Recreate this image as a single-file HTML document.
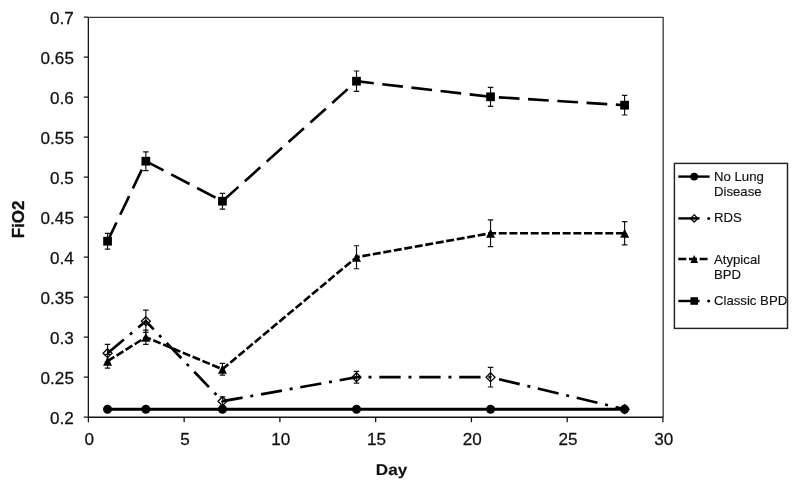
<!DOCTYPE html>
<html><head><meta charset="utf-8"><title>FiO2 by Day</title>
<style>
html,body{margin:0;padding:0;background:#fff;}
body{width:800px;height:491px;overflow:hidden;font-family:"Liberation Sans",Arial,sans-serif;}
svg{display:block;}
text{font-family:"Liberation Sans",Arial,sans-serif;fill:#111;}
.t{font-size:16.3px;stroke:#111;stroke-width:0.25px;}
.b{font-size:16px;font-weight:bold;stroke:#111;stroke-width:0.35px;}
.b2{text-rendering:geometricPrecision;font-size:16px;font-weight:bold;stroke:#111;stroke-width:0.15px;}
.l{font-size:13px;stroke:#111;stroke-width:0.15px;}
</style></head><body>
<svg width="800" height="491" viewBox="0 0 800 491">
<rect width="800" height="491" fill="#fff"/>
<path d="M88.40 17.40H663.20" fill="none" stroke="#3a3a3a" stroke-width="1.15"/>
<path d="M663.20 16.90V417.20" fill="none" stroke="#4a4a4a" stroke-width="1.45"/>
<path d="M88.35 17.40V417.20" fill="none" stroke="#151515" stroke-width="1.3"/>
<path d="M88.35 417.20H663.20" fill="none" stroke="#151515" stroke-width="1.4"/>
<path d="M83.80 417.20H88.40M83.80 377.20H88.40M83.80 337.20H88.40M83.80 297.20H88.40M83.80 257.20H88.40M83.80 217.20H88.40M83.80 177.20H88.40M83.80 137.20H88.40M83.80 97.20H88.40M83.80 57.20H88.40M83.80 17.20H88.40M88.40 417.20V422.20M184.15 417.20V422.20M279.90 417.20V422.20M375.65 417.20V422.20M471.40 417.20V422.20M567.15 417.20V422.20M662.90 417.20V422.20" fill="none" stroke="#151515" stroke-width="1.3"/>
<text class="t" transform="translate(73.90 424.30) scale(1.05 1)" text-anchor="end">0.2</text>
<text class="t" transform="translate(73.90 384.30) scale(1.05 1)" text-anchor="end">0.25</text>
<text class="t" transform="translate(73.90 344.30) scale(1.05 1)" text-anchor="end">0.3</text>
<text class="t" transform="translate(73.90 304.30) scale(1.05 1)" text-anchor="end">0.35</text>
<text class="t" transform="translate(73.90 264.30) scale(1.05 1)" text-anchor="end">0.4</text>
<text class="t" transform="translate(73.90 224.30) scale(1.05 1)" text-anchor="end">0.45</text>
<text class="t" transform="translate(73.90 184.30) scale(1.05 1)" text-anchor="end">0.5</text>
<text class="t" transform="translate(73.90 144.30) scale(1.05 1)" text-anchor="end">0.55</text>
<text class="t" transform="translate(73.90 104.30) scale(1.05 1)" text-anchor="end">0.6</text>
<text class="t" transform="translate(73.90 64.30) scale(1.05 1)" text-anchor="end">0.65</text>
<text class="t" transform="translate(73.90 24.30) scale(1.05 1)" text-anchor="end">0.7</text>
<text class="t" transform="translate(89.20 445.20) scale(1.05 1)" text-anchor="middle">0</text>
<text class="t" transform="translate(184.95 445.20) scale(1.05 1)" text-anchor="middle">5</text>
<text class="t" transform="translate(280.70 445.20) scale(1.05 1)" text-anchor="middle">10</text>
<text class="t" transform="translate(376.45 445.20) scale(1.05 1)" text-anchor="middle">15</text>
<text class="t" transform="translate(472.20 445.20) scale(1.05 1)" text-anchor="middle">20</text>
<text class="t" transform="translate(567.95 445.20) scale(1.05 1)" text-anchor="middle">25</text>
<text class="t" transform="translate(663.70 445.20) scale(1.05 1)" text-anchor="middle">30</text>
<text class="b2" transform="translate(375.8 474.7) scale(1.07 0.97)">Day</text>
<text class="b" transform="translate(24.0 219.4) rotate(-90) scale(1.06 1.06)" text-anchor="middle">FiO2</text>
<polyline points="107.55,409.20 145.85,409.20 222.45,409.20 356.50,409.20 490.55,409.20 624.60,409.20" fill="none" stroke="#000" stroke-width="3.1"/>
<path d="" fill="none" stroke="#111" stroke-width="1.15"/>
<circle cx="107.55" cy="409.20" r="4.50" fill="#000"/>
<circle cx="145.85" cy="409.20" r="4.50" fill="#000"/>
<circle cx="222.45" cy="409.20" r="4.50" fill="#000"/>
<circle cx="356.50" cy="409.20" r="4.50" fill="#000"/>
<circle cx="490.55" cy="409.20" r="4.50" fill="#000"/>
<circle cx="624.60" cy="409.20" r="4.50" fill="#000"/>
<polyline points="107.55,353.20 145.85,321.20 222.45,401.20 356.50,377.20 490.55,377.20 624.60,409.20" fill="none" stroke="#000" stroke-width="2.7" stroke-dasharray="21.32 7.84 2.96 7.84"/>
<path d="M107.55 344.30V362.10M104.80 344.30h5.5M104.80 362.10h5.5M145.85 310.10V332.30M143.10 310.10h5.5M143.10 332.30h5.5M222.45 396.90V405.50M219.70 396.90h5.5M219.70 405.50h5.5M356.50 371.30V383.10M353.75 371.30h5.5M353.75 383.10h5.5M490.55 367.40V387.00M487.80 367.40h5.5M487.80 387.00h5.5" fill="none" stroke="#111" stroke-width="1.15"/>
<path d="M107.55 348.70L112.05 353.20L107.55 357.70L103.05 353.20Z" fill="none" stroke="#000" stroke-width="1.25"/>
<path d="M145.85 316.70L150.35 321.20L145.85 325.70L141.35 321.20Z" fill="none" stroke="#000" stroke-width="1.25"/>
<path d="M222.45 396.70L226.95 401.20L222.45 405.70L217.95 401.20Z" fill="none" stroke="#000" stroke-width="1.25"/>
<path d="M356.50 372.70L361.00 377.20L356.50 381.70L352.00 377.20Z" fill="none" stroke="#000" stroke-width="1.25"/>
<path d="M490.55 372.70L495.05 377.20L490.55 381.70L486.05 377.20Z" fill="none" stroke="#000" stroke-width="1.25"/>
<path d="M624.60 404.70L629.10 409.20L624.60 413.70L620.10 409.20Z" fill="none" stroke="#000" stroke-width="1.25"/>
<polyline points="107.55,361.20 145.85,337.20 222.45,369.20 356.50,257.20 490.55,233.20 624.60,233.20" fill="none" stroke="#000" stroke-width="2.6" stroke-dasharray="7.99 2.66"/>
<path d="M107.55 354.30V368.10M104.80 354.30h5.5M104.80 368.10h5.5M145.85 330.10V344.30M143.10 330.10h5.5M143.10 344.30h5.5M222.45 363.30V375.10M219.70 363.30h5.5M219.70 375.10h5.5M356.50 245.70V268.70M353.75 245.70h5.5M353.75 268.70h5.5M490.55 219.80V246.60M487.80 219.80h5.5M487.80 246.60h5.5M624.60 221.60V244.80M621.85 221.60h5.5M621.85 244.80h5.5" fill="none" stroke="#111" stroke-width="1.15"/>
<path d="M107.55 356.70L112.05 365.70H103.05Z" fill="#000"/>
<path d="M145.85 332.70L150.35 341.70H141.35Z" fill="#000"/>
<path d="M222.45 364.70L226.95 373.70H217.95Z" fill="#000"/>
<path d="M356.50 252.70L361.00 261.70H352.00Z" fill="#000"/>
<path d="M490.55 228.70L495.05 237.70H486.05Z" fill="#000"/>
<path d="M624.60 228.70L629.10 237.70H620.10Z" fill="#000"/>
<polyline points="107.55,241.20 145.85,161.20 222.45,201.20 356.50,81.20 490.55,96.80 624.60,105.20" fill="none" stroke="#000" stroke-width="2.62" stroke-dasharray="20.72 8.59"/>
<path d="M107.55 233.35V249.05M104.80 233.35h5.5M104.80 249.05h5.5M145.85 151.80V170.60M143.10 151.80h5.5M143.10 170.60h5.5M222.45 193.35V209.05M219.70 193.35h5.5M219.70 209.05h5.5M356.50 71.00V91.40M353.75 71.00h5.5M353.75 91.40h5.5M490.55 87.30V106.30M487.80 87.30h5.5M487.80 106.30h5.5M624.60 95.40V115.00M621.85 95.40h5.5M621.85 115.00h5.5" fill="none" stroke="#111" stroke-width="1.15"/>
<rect x="103.19" y="236.84" width="8.73" height="8.73" fill="#000"/>
<rect x="141.48" y="156.83" width="8.73" height="8.73" fill="#000"/>
<rect x="218.08" y="196.84" width="8.73" height="8.73" fill="#000"/>
<rect x="352.13" y="76.83" width="8.73" height="8.73" fill="#000"/>
<rect x="486.18" y="92.43" width="8.73" height="8.73" fill="#000"/>
<rect x="620.23" y="100.84" width="8.73" height="8.73" fill="#000"/>
<rect x="674.4" y="163.4" width="113.1" height="165" fill="#fff" stroke="#222" stroke-width="1.45"/>
<path d="M678.3 176.6H709.6" fill="none" stroke="#000" stroke-width="2.4"/>
<circle cx="694.20" cy="176.60" r="3.90" fill="#000"/>
<path d="M678.3 218.4H699.6" fill="none" stroke="#000" stroke-width="2.4"/>
<circle cx="708.7" cy="218.4" r="1.5" fill="#000"/>
<path d="M694.20 214.80L697.80 218.40L694.20 222.00L690.60 218.40Z" fill="none" stroke="#000" stroke-width="1.25"/>
<path d="M678.3 259.0H709.6" fill="none" stroke="#000" stroke-width="2.4" stroke-dasharray="7.99 2.66"/>
<path d="M694.20 255.10L698.10 262.90H690.30Z" fill="#000"/>
<path d="M678.3 301.0H699.6" fill="none" stroke="#000" stroke-width="2.4"/>
<circle cx="708.7" cy="301.0" r="1.5" fill="#000"/>
<rect x="690.42" y="297.22" width="7.57" height="7.57" fill="#000"/>
<text class="l" transform="translate(714.00 181.20) scale(1.015 1)" text-anchor="start">No Lung</text>
<text class="l" transform="translate(714.00 196.20) scale(1.015 1)" text-anchor="start">Disease</text>
<text class="l" transform="translate(714.00 222.30) scale(1.015 1)" text-anchor="start">RDS</text>
<text class="l" transform="translate(714.00 264.10) scale(1.015 1)" text-anchor="start">Atypical</text>
<text class="l" transform="translate(714.00 279.10) scale(1.015 1)" text-anchor="start">BPD</text>
<text class="l" transform="translate(714.00 305.20) scale(1.015 1)" text-anchor="start">Classic BPD</text>
</svg></body></html>
